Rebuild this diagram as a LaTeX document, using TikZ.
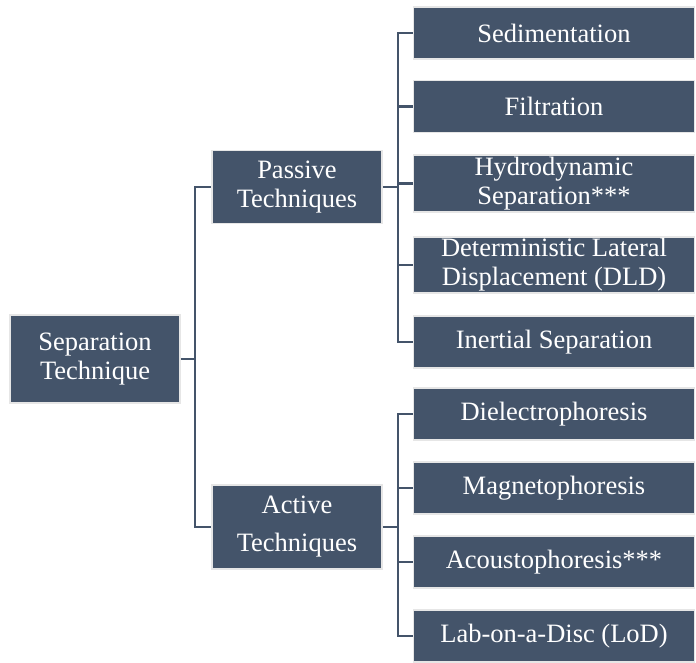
\documentclass[tikz,border=0pt]{standalone}
\usepackage{fontspec}
\setmainfont{Liberation Serif}
\usetikzlibrary{positioning}
\definecolor{boxfill}{HTML}{44546A}
\definecolor{boxrim}{HTML}{E6E6E6}
% sizes in px (1px = 1pt)
\newcommand{\midw}{170}
\newcommand{\leafw}{281}
\newcommand{\leafh}{52}
\newcommand{\leafx}{554}
\newcommand{\midx}{297}
\begin{document}
\begin{tikzpicture}[x=1pt,y=-1pt,font=\fontsize{26.5}{29}\selectfont,
    box/.style={fill=boxfill,draw=boxrim,line width=1.5pt,text=white,
      align=center,inner sep=0pt,minimum width=\midw pt},
    leaf/.style={box,minimum width=\leafw pt,minimum height=\leafh pt},
    link/.style={draw=boxfill,line width=2.5pt}]
  \useasboundingbox (0,0) rectangle (696,662);
  % root
  \node[box,minimum height=88pt] (sep) at (95,359) {Separation\\Technique};
  % middle level
  \node[box,minimum height=73pt] (pass) at (\midx,187) {Passive\\Techniques};
  \node[box,minimum height=84pt] (act) at (\midx,527) {Active\\[9pt]Techniques};
  % passive leaves
  \node[leaf] (sedi) at (\leafx,33) {Sedimentation};
  \node[leaf] (filt) at (\leafx,106.5) {Filtration};
  \node[leaf,minimum height=57pt] (hydro) at (\leafx,183.5) {Hydrodynamic\\Separation***};
  \node[leaf,minimum height=56pt] (dld) at (\leafx,265) {Deterministic Lateral\\Displacement (DLD)};
  \node[leaf] (inert) at (\leafx,342) {Inertial Separation};
  % active leaves
  \node[leaf] (diel) at (\leafx,414) {Dielectrophoresis};
  \node[leaf] (magn) at (\leafx,488) {Magnetophoresis};
  \node[leaf] (acou) at (\leafx,562) {Acoustophoresis***};
  \node[leaf] (lod) at (\leafx,636) {Lab-on-a-Disc (LoD)};
  % connectors
  \coordinate (sepj) at (195,359);
  \coordinate (passj) at (398,187);
  \coordinate (actj) at (398,527);
  \draw[link] (sep.east) -- (sepj) |- (pass.west);
  \draw[link] (sepj) |- (act.west);
  \draw[link] (pass.east) -- (passj);
  \foreach \n in {sedi,filt,hydro,dld,inert}
    \draw[link] (passj) |- (\n.west);
  \draw[link] (act.east) -- (actj);
  \foreach \n in {diel,magn,acou,lod}
    \draw[link] (actj) |- (\n.west);
\end{tikzpicture}
\end{document}
